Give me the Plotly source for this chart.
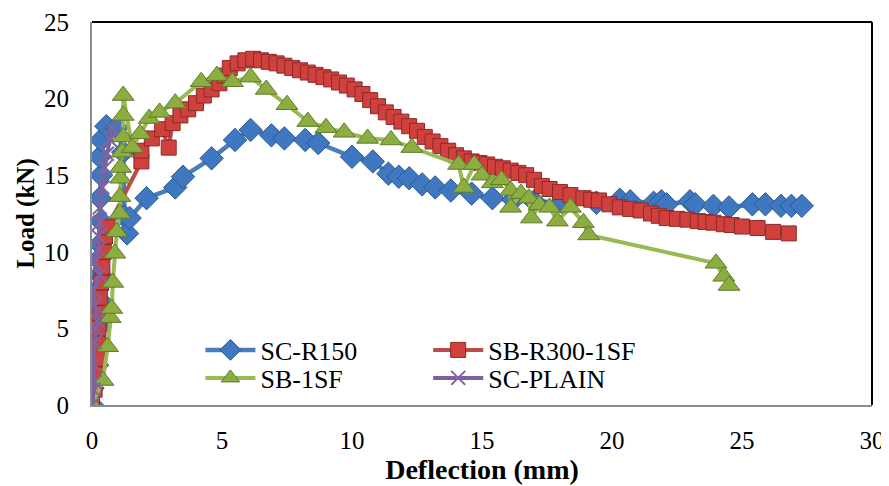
import plotly.graph_objects as go

# ---- data ----
sc_r150_x = [0, 0.02, 0.2, 0.1, 0.3, 0.38, 0.2, 0.3, 0.25, 0.3, 0.35, 0.3, 0.35, 0.3, 0.35, 0.55, 0.95, 1.2,
             1.25, 1.35, 1.45, 2.1, 3.2, 3.5, 4.6, 5.5, 6.1, 6.9, 7.4, 8.2, 8.7, 10.0, 10.8, 11.4, 11.8,
             12.2, 12.7, 13.2, 13.8, 14.6, 15.4, 16.2, 17.0, 18.1, 19.4, 20.3, 20.7, 21.6, 21.9, 22.1,
             23.0, 23.2, 23.9, 24.5, 25.4, 25.9, 26.5, 26.9, 27.3]
sc_r150_y = [0, 1.1, 2.6, 3.5, 5.1, 6.7, 7.5, 8.5, 9.5, 10.5, 12.0, 13.5, 15.0, 16.2, 17.3, 18.2, 18.1, 16.5,
             12.3, 11.2, 12.2, 13.5, 14.2, 14.9, 16.1, 17.3, 17.95, 17.6, 17.4, 17.3, 17.1, 16.2, 15.9, 15.1, 14.9,
             14.8, 14.4, 14.2, 14.0, 13.8, 13.5, 13.4, 13.3, 13.2, 13.2, 13.4, 13.3, 13.2, 13.3, 13.1,
             13.3, 13.1, 13.0, 12.9, 13.1, 13.1, 13.0, 13.0, 13.0]

sb_r300_x = [0, 0.1, 0.15, 0.2, 0.25, 0.25, 0.3, 0.3, 0.35, 0.4, 0.45, 0.5, 0.6, 1.9, 1.9, 2.3, 2.7, 2.95,
             3.1, 3.4, 3.7, 4.0, 4.3, 4.6, 4.9, 5.1, 5.3, 5.6, 5.9, 6.2, 6.5, 6.8, 7.1, 7.4, 7.7, 8.0, 8.3,
             8.6, 8.9, 9.2, 9.5, 9.8, 10.1, 10.4, 10.7, 11.0, 11.3, 11.6, 11.9, 12.2, 12.5, 12.8, 13.1, 13.4,
             13.7, 14.0, 14.3, 14.6, 14.9, 15.2, 15.5, 15.8, 16.1, 16.4, 16.7, 17.0, 17.3, 17.6, 18.0, 18.4,
             18.9, 19.2, 19.5, 19.9, 20.3, 20.7, 21.1, 21.5, 21.8, 22.1, 22.5, 22.9, 23.3, 23.6, 23.9, 24.3,
             24.6, 25.0, 25.6, 26.2, 26.8]
sb_r300_y = [0, 1, 2, 3, 4, 5, 6, 7, 8, 9, 10, 11, 11.6, 15.9, 16.6, 17.4, 18.0, 16.8,
             18.4, 18.9, 19.3, 19.7, 20.2, 20.6, 21.0, 21.5, 22.0, 22.3, 22.5, 22.6, 22.5, 22.4, 22.3, 22.15, 22.0, 21.85, 21.7,
             21.55, 21.4, 21.25, 21.05, 20.85, 20.6, 20.3, 19.9, 19.5, 19.1, 18.8, 18.5, 18.2, 17.9, 17.5, 17.2, 16.9,
             16.6, 16.3, 16.1, 15.9, 15.8, 15.7, 15.55, 15.45, 15.3, 15.15, 15.0, 14.7, 14.3, 14.1, 13.9, 13.7,
             13.5, 13.4, 13.35, 13.1, 12.9, 12.8, 12.7, 12.5, 12.35, 12.2, 12.15, 12.1, 12.0, 11.95, 11.9, 11.8,
             11.75, 11.65, 11.55, 11.3, 11.2]

sb_1sf_x = [0, 0.42, 0.6, 0.7, 0.76, 0.8, 0.88, 0.95, 1.07, 1.07, 1.1, 1.1, 1.15, 1.2, 1.2, 1.2,
            1.55, 1.85, 2.2, 2.6, 3.2, 4.2, 4.8, 5.4, 6.1, 6.7, 7.5, 8.3, 9.0, 9.7, 10.6, 11.5, 12.3,
            14.1, 14.3, 14.7, 15.0, 15.4, 15.75, 16.1, 16.1, 16.5, 16.8, 16.9, 17.2, 17.6, 17.9, 18.4,
            18.9, 19.1, 24.0, 24.3, 24.5]
sb_1sf_y = [0, 1.6, 3.8, 5.7, 6.3, 8.0, 9.9, 11.3, 12.5, 13.6, 14.8, 15.5, 16.5, 17.5, 18.9, 20.2,
            16.8, 17.7, 18.7, 19.1, 19.7, 21.1, 21.5, 21.1, 21.4, 20.6, 19.6, 18.5, 18.1, 17.8, 17.4, 17.3, 16.8,
            15.7, 14.2, 15.7, 15.0, 14.5, 14.7, 14.0, 12.9, 13.8, 13.5, 12.2, 13.05, 12.9, 12.0, 12.9,
            11.9, 11.1, 9.25, 8.4, 7.8]

sc_plain_x = [0, 0.05, 0.1, 0.05, 0.1, 0.15, 0.2, 0.1, 0.05, 0.3, 0.1, 0.25, 0.25, 0.3, 0.3, 0.4, 0.5, 0.57, 0.7, 0.77]
sc_plain_y = [0, 1.0, 1.5, 2.7, 4.1, 5.0, 5.5, 6.5, 7.5, 8.5, 9.3, 10.2, 11.0, 11.9, 12.9, 14.2, 15.5, 16.4, 17.3, 18.1]

x_ticks = [0, 5, 10, 15, 20, 25, 30]
y_ticks = [0, 5, 10, 15, 20, 25]

FONT = "Liberation Serif"

fig = go.Figure()
fig.add_trace(go.Scatter(
    x=sc_r150_x, y=sc_r150_y, name="SC-R150", mode="lines+markers", legend="legend",
    line=dict(color="#4A7EBB", width=4.5),
    marker=dict(symbol="diamond", size=18, color="#3F78C0", line=dict(color="#2C5A8F", width=1))))
fig.add_trace(go.Scatter(
    x=sb_r300_x, y=sb_r300_y, name="SB-R300-1SF", mode="lines+markers", legend="legend2",
    line=dict(color="#BE4B48", width=4),
    marker=dict(symbol="square", size=15, color="#D0413E", line=dict(color="#8C2A28", width=1))))
fig.add_trace(go.Scatter(
    x=sb_1sf_x, y=sb_1sf_y, name="SB-1SF", mode="lines+markers", legend="legend3",
    line=dict(color="#98B954", width=4),
    marker=dict(symbol="triangle-up", size=19, color="#8CAD3F", line=dict(color="#617A2C", width=1))))
fig.add_trace(go.Scatter(
    x=sc_plain_x, y=sc_plain_y, name="SC-PLAIN", mode="lines+markers", legend="legend4",
    line=dict(color="#7D60A0", width=4),
    marker=dict(symbol="x-thin-open", size=14, color="#8064A2", line=dict(color="#8064A2", width=2))))

def leg(x, y):
    return dict(x=x, y=y, xanchor="left", yanchor="middle", orientation="v",
                font=dict(family=FONT, size=26, color="black"), bgcolor="rgba(0,0,0,0)",
                borderwidth=0, itemwidth=50)

row1 = (405 - 350) / 383
row2 = (405 - 378) / 383
# the page body has an 8 px margin, so the figure is 8 px smaller and offset
fig.update_layout(
    width=881, height=478,
    margin=dict(l=84, r=17, t=14, b=81),
    paper_bgcolor="white", plot_bgcolor="white",
    font=dict(family=FONT, size=25, color="black"),
    showlegend=True,
    legend=leg(0.139, row1),
    legend2=leg(0.431, row1),
    legend3=leg(0.139, row2),
    legend4=leg(0.431, row2),
    xaxis=dict(range=[0, 30], tickvals=x_ticks, ticktext=[str(v) for v in x_ticks],
               showgrid=False, zeroline=False, showline=True, linecolor="#8C8C8C", linewidth=2,
               ticks="", ticklabelstandoff=12, automargin=False,
               title=dict(text="<b>Deflection (mm)</b>", font=dict(family=FONT, size=28), standoff=4)),
    yaxis=dict(range=[0, 25], tickvals=y_ticks, ticktext=[str(v) for v in y_ticks],
               showgrid=False, zeroline=False, showline=True, linecolor="#8C8C8C", linewidth=2,
               ticks="", ticklabelstandoff=16, automargin=False,
               title=dict(text="<b>Load (kN)</b>", font=dict(family=FONT, size=25), standoff=2)),
)
# black frame on top and right
fig.add_shape(type="line", xref="paper", yref="paper", x0=0, x1=1, y0=1, y1=1,
              line=dict(color="black", width=2))
fig.add_shape(type="line", xref="paper", yref="paper", x0=1, x1=1, y0=0, y1=1,
              line=dict(color="black", width=2))

fig.write_html("out.html")
